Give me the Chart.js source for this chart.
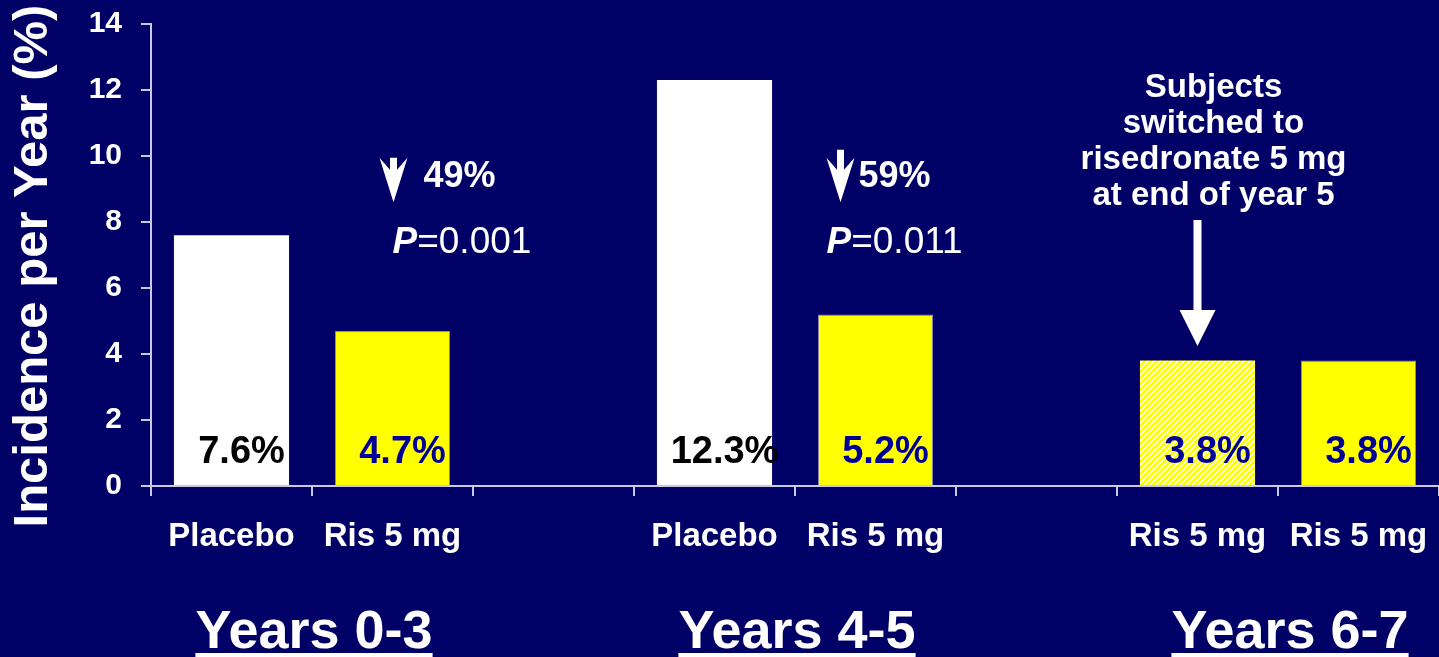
<!DOCTYPE html>
<html>
<head>
<meta charset="utf-8">
<script src="https://cdn.jsdelivr.net/npm/chart.js@4"></script>
<style>
  html, body { margin: 0; padding: 0; background: #000066; }
  #wrap { width: 1439px; height: 657px; }
</style>
</head>
<body>
<div id="wrap"><canvas id="c" width="1439" height="657"></canvas></div>
<script>
// Category slots along the x axis (empty slots separate the three periods)
const categories = ['Placebo', 'Ris 5 mg', '', 'Placebo', 'Ris 5 mg', '', 'Ris 5 mg', 'Ris 5 mg'];
// Incidence per year (%) by slot
const placeboValues  = [7.6, null, null, 12.3, null, null, null, null];
const risValues      = [null, 4.7, null, null, 5.2, null, null, 3.8];
const switchedValues = [null, null, null, null, null, null, 3.8, null];
// Study periods, each spanning a pair of slots
const periods = ['Years 0-3', 'Years 4-5', 'Years 6-7'];
const periodSlots = [[0, 1], [3, 4], [6, 7]];
// Reductions versus placebo
const reductions = ['49%', '59%'];
const pValues = ['0.001', '0.011'];
const yTicks = [0, 2, 4, 6, 8, 10, 12, 14];

const FONT = '"Liberation Sans", Arial, Helvetica, sans-serif';
const BG = '#000066';
const AXIS = '#c8c8e0';

// diagonal yellow/white stripes for the switched group
function stripePattern() {
  const s = 6;
  const p = document.createElement('canvas');
  p.width = s; p.height = s;
  const g = p.getContext('2d');
  g.fillStyle = '#ffffff';
  g.fillRect(0, 0, s, s);
  g.strokeStyle = '#ffff00';
  g.lineWidth = 2.8;
  g.beginPath();
  g.moveTo(-1, s + 1); g.lineTo(s + 1, -1);
  g.moveTo(-1, 1); g.lineTo(1, -1);
  g.moveTo(s - 1, s + 1); g.lineTo(s + 1, s - 1);
  g.stroke();
  return g.createPattern(p, 'repeat');
}

const ctx = document.getElementById('c').getContext('2d');

const backgroundPlugin = {
  id: 'bg',
  beforeDraw(chart) {
    const c = chart.ctx;
    c.save();
    c.fillStyle = BG;
    c.fillRect(0, 0, chart.width, chart.height);
    c.restore();
  }
};

// barbed down arrow: stem from top, barbs at notch, point at tip
function downArrow(c, cx, top, notch, tip, half, stem) {
  const inner = notch + 12;
  c.beginPath();
  c.moveTo(cx - half, notch);
  c.lineTo(cx - stem, inner);
  c.lineTo(cx - stem, top);
  c.lineTo(cx + stem, top);
  c.lineTo(cx + stem, inner);
  c.lineTo(cx + half, notch);
  c.lineTo(cx, tip);
  c.closePath();
  c.fill();
}

const annotationPlugin = {
  id: 'notes',
  afterDraw(chart) {
    const c = chart.ctx;
    const xs = chart.scales.x, ys = chart.scales.y;
    const px = i => xs.getPixelForValue(i);
    const py = v => ys.getPixelForValue(v);
    c.save();

    // value labels inside the bars
    c.font = 'bold 38px ' + FONT;
    c.textAlign = 'center';
    c.textBaseline = 'alphabetic';
    chart.data.datasets.forEach((ds, di) => {
      chart.getDatasetMeta(di).data.forEach((bar, i) => {
        const v = ds.data[i];
        if (v == null) return;
        c.fillStyle = ds.labelColor;
        c.fillText(v.toFixed(1) + '%', bar.x + 10, ys.bottom - 23);
      });
    });

    c.fillStyle = '#ffffff';
    // reduction arrows and p-values
    const noteX = [px(1) + 1, px(4) - 35];
    const textGap = [30, 18];
    [0, 1].forEach(k => {
      const ax = noteX[k];
      downArrow(c, ax, py(9.95) - (k ? 8 : 0), py(9.95), py(8.6), 14, 3.5);
      c.textAlign = 'left';
      c.font = 'bold 36px ' + FONT;
      c.fillText(reductions[k], ax + textGap[k], py(9.06));
      c.font = 'italic bold 37px ' + FONT;
      const pLeft = ax - 1 - (k ? 13 : 0);
      c.fillText('P', pLeft, py(7.06));
      const w = c.measureText('P').width;
      c.font = '37px ' + FONT;
      c.fillText('=' + pValues[k], pLeft + w, py(7.06));
    });

    // switch note with its arrow
    const sx = px(6);
    c.font = 'bold 33px ' + FONT;
    c.textAlign = 'center';
    ['Subjects', 'switched to', 'risedronate 5 mg', 'at end of year 5'].forEach((t, i) => {
      c.fillText(t, sx + 16, py(11.79) + i * 36);
    });
    c.fillRect(sx - 4, py(8.06), 8, py(5.33) - py(8.06) + 1);
    c.beginPath();
    c.moveTo(sx - 18, py(5.33));
    c.lineTo(sx + 18, py(5.33));
    c.lineTo(sx, py(4.24));
    c.closePath();
    c.fill();

    // y-axis title
    c.save();
    c.translate(33, 266);
    c.rotate(-Math.PI / 2);
    c.font = 'bold 49px ' + FONT;
    c.textAlign = 'center';
    c.textBaseline = 'middle';
    c.fillText('Incidence per Year (%)', 0, 0);
    c.restore();

    // period labels, underlined
    c.font = 'bold 54px ' + FONT;
    c.textAlign = 'center';
    c.textBaseline = 'alphabetic';
    periods.forEach((t, i) => {
      const cx = (px(periodSlots[i][0]) + px(periodSlots[i][1])) / 2 + (i === 2 ? 12 : 2);
      c.fillText(t, cx, 648);
      const w = c.measureText(t).width;
      c.fillRect(cx - w / 2, 653, w, 4);
    });
    c.restore();
  }
};

new Chart(ctx, {
  type: 'bar',
  data: {
    labels: categories,
    datasets: [
      { label: 'Placebo', data: placeboValues, backgroundColor: '#ffffff', borderWidth: 0, labelColor: '#000000' },
      { label: 'Ris 5 mg', data: risValues, backgroundColor: '#ffff00', borderColor: '#8a8ab0', borderWidth: 1, labelColor: '#000099' },
      { label: 'Switched to Ris 5 mg', data: switchedValues, backgroundColor: stripePattern(), borderWidth: 0, labelColor: '#000099' }
    ]
  },
  options: {
    responsive: false,
    animation: false,
    events: [],
    layout: { padding: { left: 0, right: 0, top: 24, bottom: 0 } },
    datasets: { bar: { grouped: false, categoryPercentage: 1, barPercentage: 0.715 } },
    plugins: { legend: { display: false }, tooltip: { enabled: false } },
    scales: {
      x: {
        offset: true,
        grid: { offset: true, drawOnChartArea: false, drawTicks: true, tickLength: 10, color: AXIS, lineWidth: 2 },
        border: { display: true, color: AXIS, width: 2 },
        ticks: { color: '#ffffff', font: { family: FONT, size: 33, weight: 'bold' }, padding: 21, maxRotation: 0, autoSkip: false },
        afterFit(scale) {
          scale.height = 171;
          scale.paddingLeft = 0; scale.paddingRight = 0;
        }
      },
      y: {
        min: 0, max: 14,
        afterBuildTicks(scale) { scale.ticks = yTicks.map(v => ({ value: v })); },
        grid: { drawOnChartArea: false, drawTicks: true, tickLength: 10, color: AXIS, lineWidth: 2 },
        border: { display: true, color: AXIS, width: 2 },
        ticks: { color: '#ffffff', font: { family: FONT, size: 30, weight: 'bold' }, padding: 19 },
        afterFit(scale) {
          scale.width = 151;
          scale.paddingTop = 0; scale.paddingBottom = 0;
        }
      }
    }
  },
  plugins: [backgroundPlugin, annotationPlugin]
});
</script>
</body>
</html>
